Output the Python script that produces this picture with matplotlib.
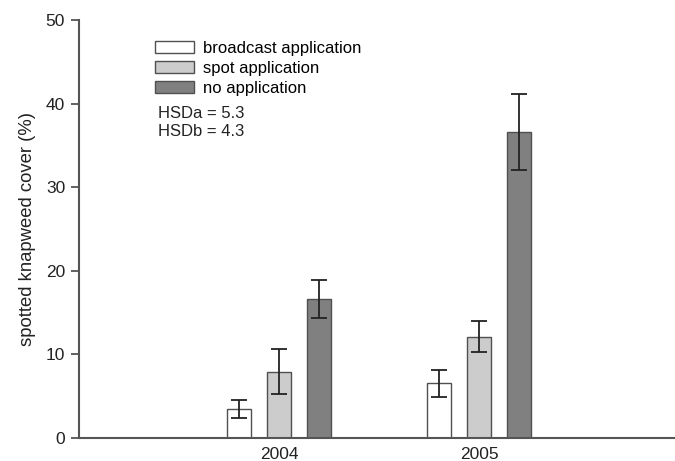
import numpy as np
import matplotlib
matplotlib.use('Agg')
import matplotlib.pyplot as plt

plt.rcParams['font.family'] = ['Liberation Sans', 'DejaVu Sans']

years = ['2004', '2005']
treatments = ['broadcast application', 'spot application', 'no application']
cover = [[3.4, 6.5],     # broadcast
         [7.9, 12.1],    # spot
         [16.6, 36.6]]   # none
err = [[1.1, 1.6],
       [2.7, 1.9],
       [2.3, 4.5]]
hsd_lines = ['HSDa = 5.3', 'HSDb = 4.3']

colors = ['white', '#cccccc', '#808080']
edge = '#505050'

fig = plt.figure(figsize=(6.75, 4.61), dpi=100)
ax = fig.add_axes([79/675, 1 - 437.7/461, 1 - 79/675, (437.7 - 20)/461])

x = np.arange(len(years))
width = 0.12
offsets = [-0.2, 0.0, 0.2]
for i in range(len(treatments)):
    ax.bar(x + offsets[i], cover[i], width, color=colors[i], edgecolor=edge,
           linewidth=1.0, label=treatments[i], zorder=2)
    ax.errorbar(x + offsets[i], cover[i], yerr=err[i], fmt='none',
                ecolor='#222222', elinewidth=1.3, capsize=6, capthick=1.3, zorder=3)

ax.set_xlim(-1.0, 1.98)
ax.set_ylim(0, 50)
ax.set_yticks([0, 10, 20, 30, 40, 50])
ax.set_xticks(x)
ax.set_xticklabels(years)
ax.tick_params(axis='x', length=0, pad=7, labelsize=12.5, colors='#222222')
ax.tick_params(axis='y', length=6, width=1.3, color='#555555', labelsize=12.5,
               labelcolor='#222222', pad=4)
for s in ['top', 'right']:
    ax.spines[s].set_visible(False)
for s in ['left', 'bottom']:
    ax.spines[s].set_color('#555555')
    ax.spines[s].set_linewidth(1.5)

ax.set_ylabel('spotted knapweed cover (%)', fontsize=13.3, color='#222222', labelpad=7)

ax.legend(loc='upper left', bbox_to_anchor=(155/675, 1 - 41/461),
          bbox_transform=fig.transFigure, frameon=False, fontsize=12,
          handlelength=2.35, handleheight=0.75, handletextpad=0.55,
          labelspacing=0.3, borderpad=0, borderaxespad=0)

fig.text(158/675, 1 - 113/461, hsd_lines[0], fontsize=12, va='center', color='#222222')
fig.text(158/675, 1 - 132/461, hsd_lines[1], fontsize=12, va='center', color='#222222')

fig.savefig('out.png', dpi=100)
